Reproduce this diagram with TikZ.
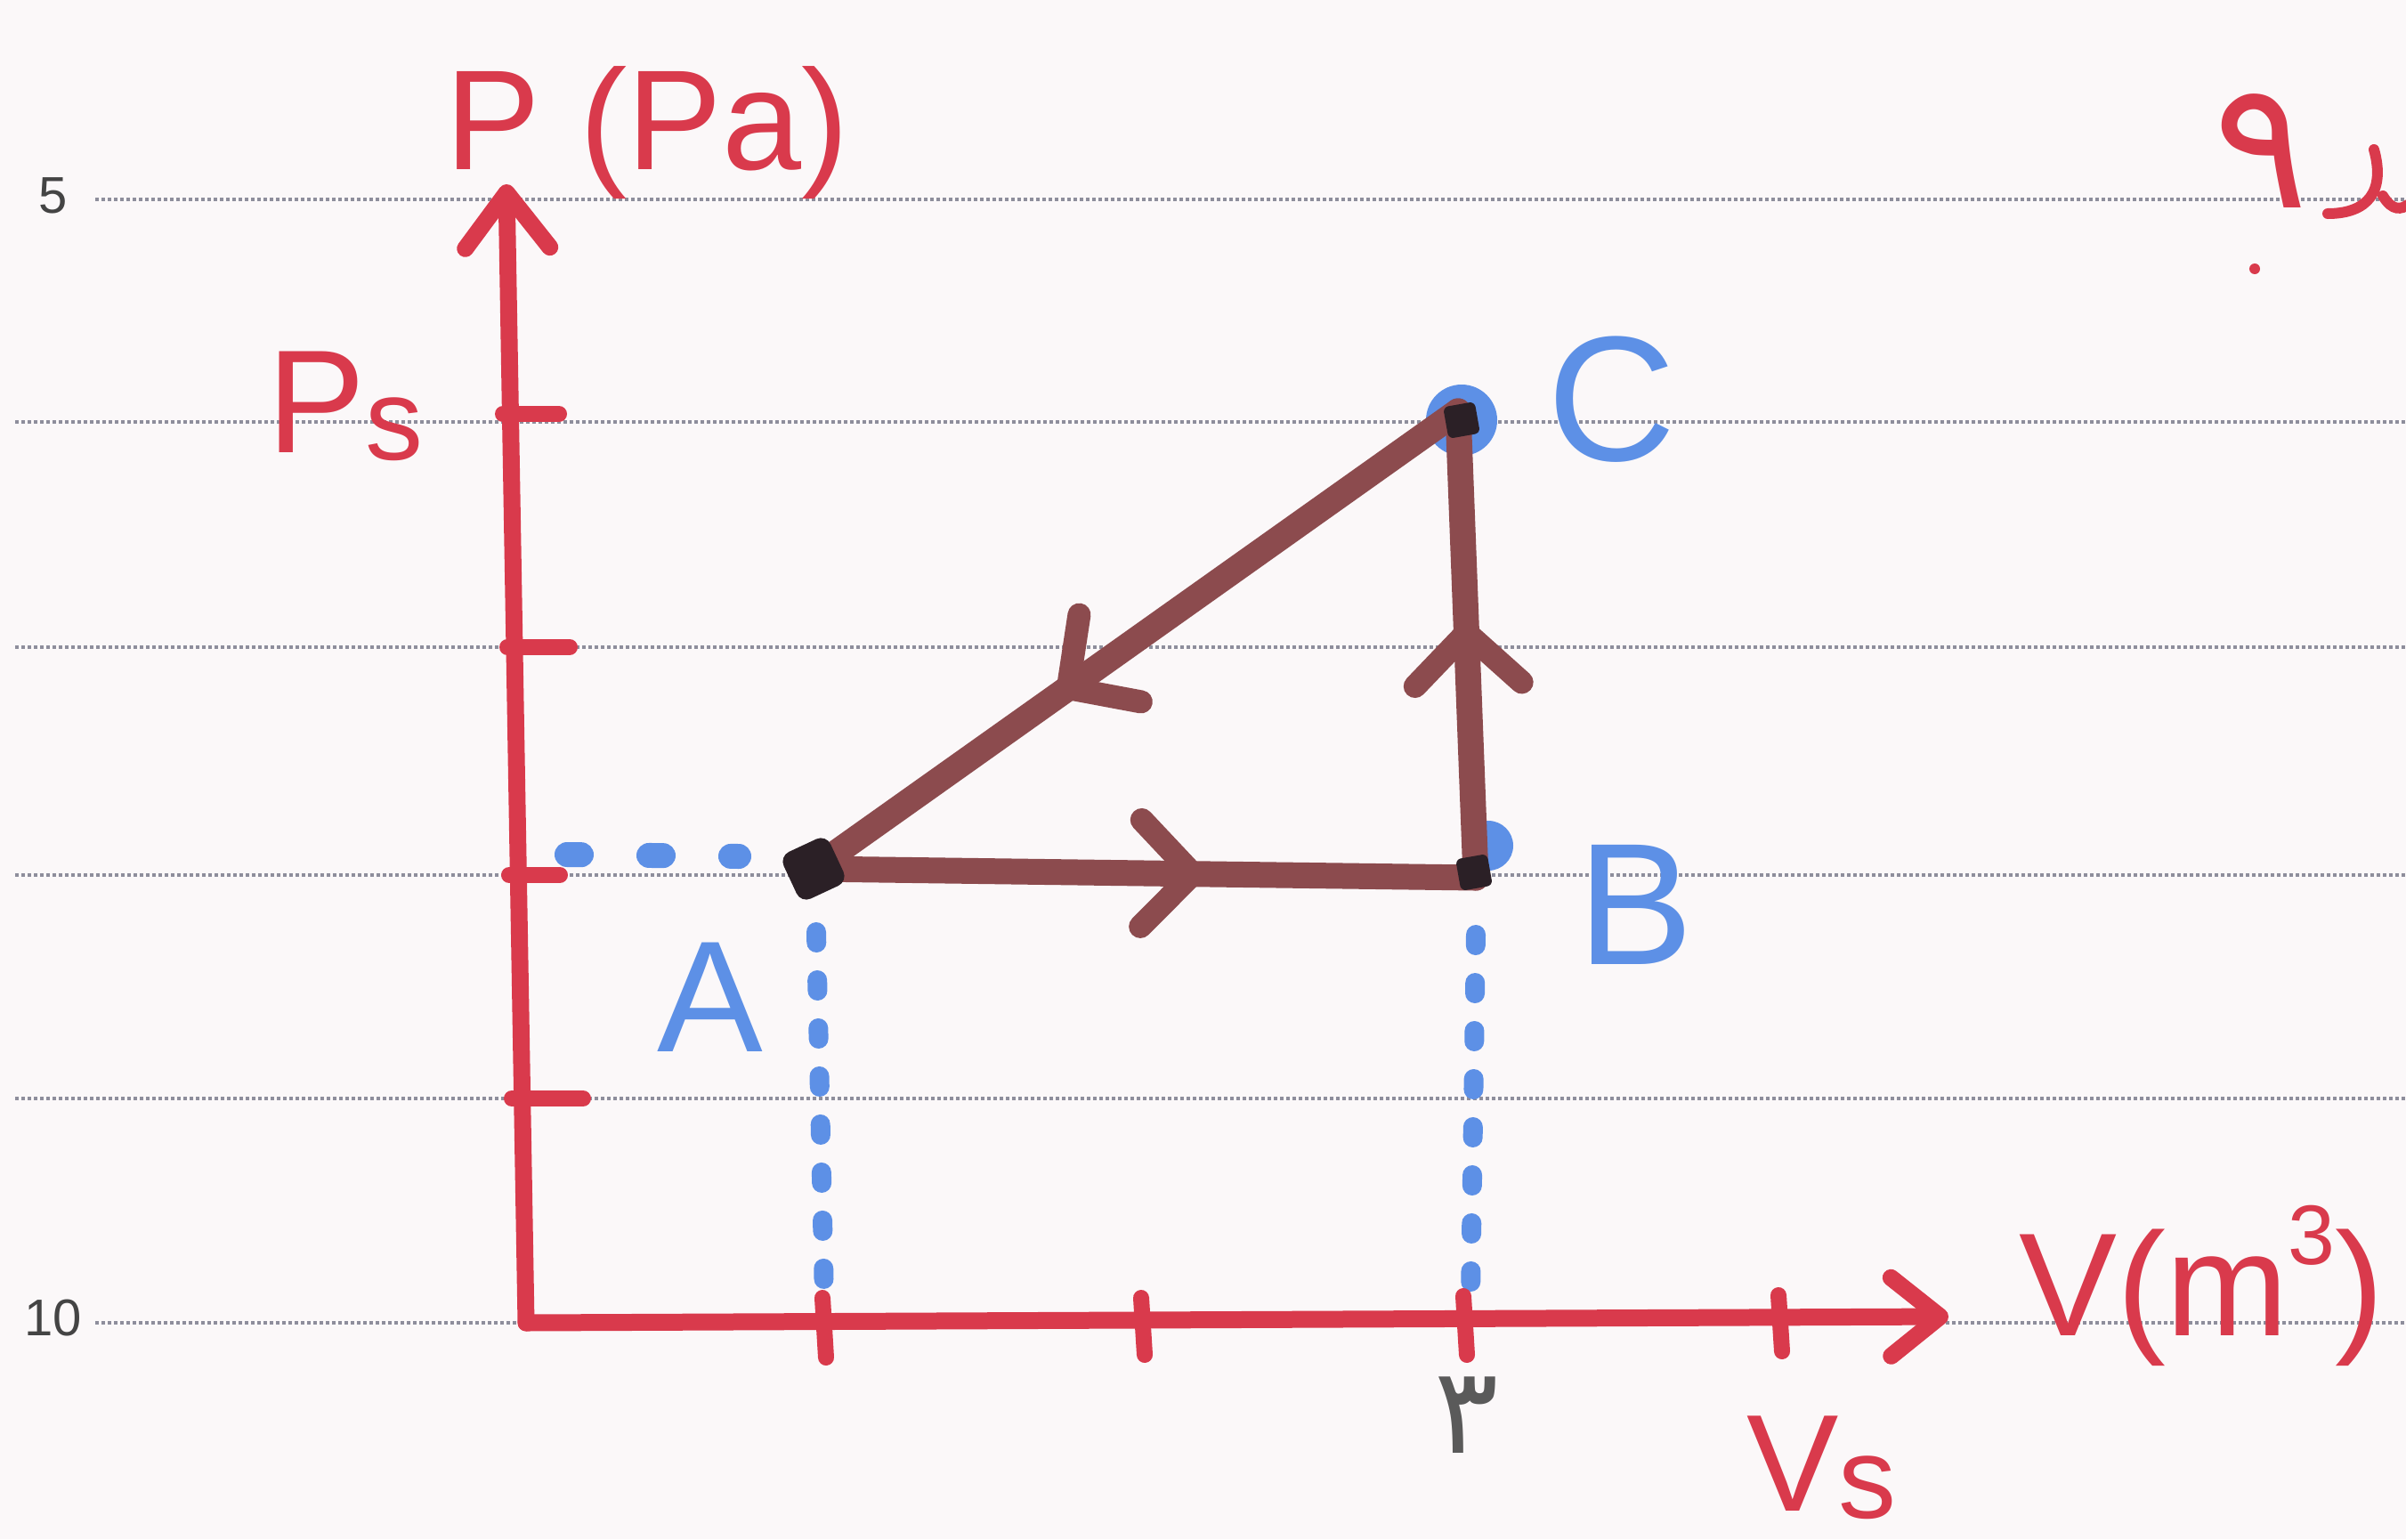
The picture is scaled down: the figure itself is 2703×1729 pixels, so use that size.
\documentclass[tikz,border=0pt]{standalone}
\usepackage{fontspec}
\setmainfont{Liberation Sans}
\newfontfamily\arabicfont[Script=Arabic]{DejaVu Sans}
\TeXXeTstate=1
\usetikzlibrary{arrows.meta,decorations.markings}
\definecolor{paper}{HTML}{FBF8F9}
\definecolor{ink}{HTML}{D93A4C}
\definecolor{brownink}{HTML}{8C4B4E}
\definecolor{blueink}{HTML}{5D90E6}
\definecolor{dotink}{HTML}{2B2026}
\definecolor{rulegray}{HTML}{8E8E9C}
\definecolor{printgray}{HTML}{444444}
\definecolor{pencil}{HTML}{5A5A5A}
\tikzset{
  ruled/.style={draw=rulegray, line width=4pt, dash pattern=on 4pt off 3pt},
  axisline/.style={draw=ink, line width=19pt, line cap=round},
  tickmark/.style={draw=ink, line width=18pt, line cap=round},
  loopline/.style={draw=brownink, line width=29pt, line cap=round},
  guide/.style={draw=blueink, line width=22pt, line cap=round, dash pattern=on 12pt off 42pt},
  lbl/.style={inner sep=0pt, anchor=base west},
  midarrow/.style={postaction={decorate}, decoration={markings,
      mark=at position #1 with {\arrow{Straight Barb[length=58pt,width=120pt,round,line width=26pt]}}}},
}
\newcommand{\fs}[1]{\fontsize{#1}{#1}\selectfont}
\begin{document}
\begin{tikzpicture}[x=1pt,y=-1pt]
\useasboundingbox (0,0) rectangle (2703,1729);
\fill[paper] (0,0) rectangle (2703,1729);

% ruled notebook lines
\draw[ruled] (107,224) -- (2703,224);
\draw[ruled] (17,474) -- (2703,474);
\draw[ruled] (17,727) -- (2703,727);
\draw[ruled] (17,983) -- (2703,983);
\draw[ruled] (17,1234) -- (2703,1234);
\draw[ruled] (107,1486) -- (2703,1486);
\node[inner sep=0pt, text=printgray] (n5) at (60,220) {\fs{58}5};
\node[inner sep=0pt, text=printgray] (n10) at (60,1481) {\fs{58}10};

% coordinates
\coordinate (O) at (591,1486);
\coordinate (Ytop) at (569,207);
\coordinate (Xend) at (2189,1479);
\coordinate (A) at (914,976);
\coordinate (B) at (1658,986);
\coordinate (C) at (1638,462);

% blue guide lines
\coordinate (Aleft) at (637,960);
\coordinate (Aleft2) at (830,962);
\coordinate (Adown1) at (917,1047);
\coordinate (Adown2) at (926,1460);
\coordinate (Bdown1) at (1658,1050);
\coordinate (Bdown2) at (1652,1460);
\draw[guide, line width=28pt, dash pattern=on 16pt off 76pt] (Aleft) -- (Aleft2);
\draw[guide] (Adown1) -- (Adown2);
\draw[guide] (Bdown1) -- (Bdown2);
\fill[blueink] (1672,950) circle (28pt);
\fill[blueink] (1642,472) circle (40pt);

% axes
\draw[axisline, -{Straight Barb[length=62pt,width=95pt,round]}] (O) -- (Ytop);
\draw[axisline, -{Straight Barb[length=55pt,width=88pt,round]}] (O) -- (Xend);
% y ticks
\draw[tickmark] (565,465) -- (628,465);
\draw[tickmark] (570,727) -- (640,727);
\draw[tickmark] (572,983) -- (629,983);
\draw[tickmark] (575,1234) -- (655,1234);
% x ticks
\draw[tickmark] (924,1458) -- (928,1525);
\draw[tickmark] (1282,1458) -- (1286,1522);
\draw[tickmark] (1644,1456) -- (1648,1522);
\draw[tickmark] (1998,1455) -- (2002,1518);

% cycle A -> B -> C -> A
\draw[loopline, midarrow=0.59] (A) -- (B);
\draw[loopline, midarrow=0.55] (B) -- (C);
\draw[loopline, midarrow=0.62] (C) -- (A);
\node[fill=dotink, minimum size=58pt, inner sep=0pt, rotate=25, rounded corners=12pt] (Adot) at (A) {};
\node[fill=dotink, minimum size=36pt, inner sep=0pt, rotate=10, rounded corners=6pt] (Bdot) at (1656,980) {};
\node[fill=dotink, minimum size=36pt, inner sep=0pt, rotate=10, rounded corners=6pt] (Cdot) at (1642,472) {};

% labels
\node[lbl, text=ink] (Ptitle) at (500,190) {\fs{160}P (Pa)};
\node[lbl, text=ink] (Ps) at (300,508) {\fs{165}P\raisebox{-8pt}{\fs{130}s}};
\node[lbl, text=ink] (Vtitle) at (2268,1500) {\fs{165}V(m\raisebox{80pt}{\fs{95}3})};
\node[lbl, text=ink] (Vs) at (1962,1697) {\fs{155}V\raisebox{-8pt}{\fs{130}s}};
\node[lbl, text=blueink] (Alab) at (738,1181) {\fs{178}A};
\node[lbl, text=blueink] (Blab) at (1772,1083) {\fs{195}B};
\node[lbl, text=blueink] (Clab) at (1738,517) {\fs{200}C};
\node[inner sep=0pt, text=pencil] (three) at (1648,1590) {\fs{135}\arabicfont\beginR ۳\endR};

% top-right fragment
\node[inner sep=0pt, text=ink] (nine) at (2540,170) {\fs{200}\arabicfont\beginR ۹\endR};
\fill[ink] (2533,302) circle (6pt);
\draw[ink, line width=12pt, line cap=round] (2667,168) .. controls (2680,215) and (2660,240) .. (2615,240);
\draw[ink, line width=12pt, line cap=round] (2677,220) .. controls (2688,238) and (2698,235) .. (2705,230);
\end{tikzpicture}
\end{document}
